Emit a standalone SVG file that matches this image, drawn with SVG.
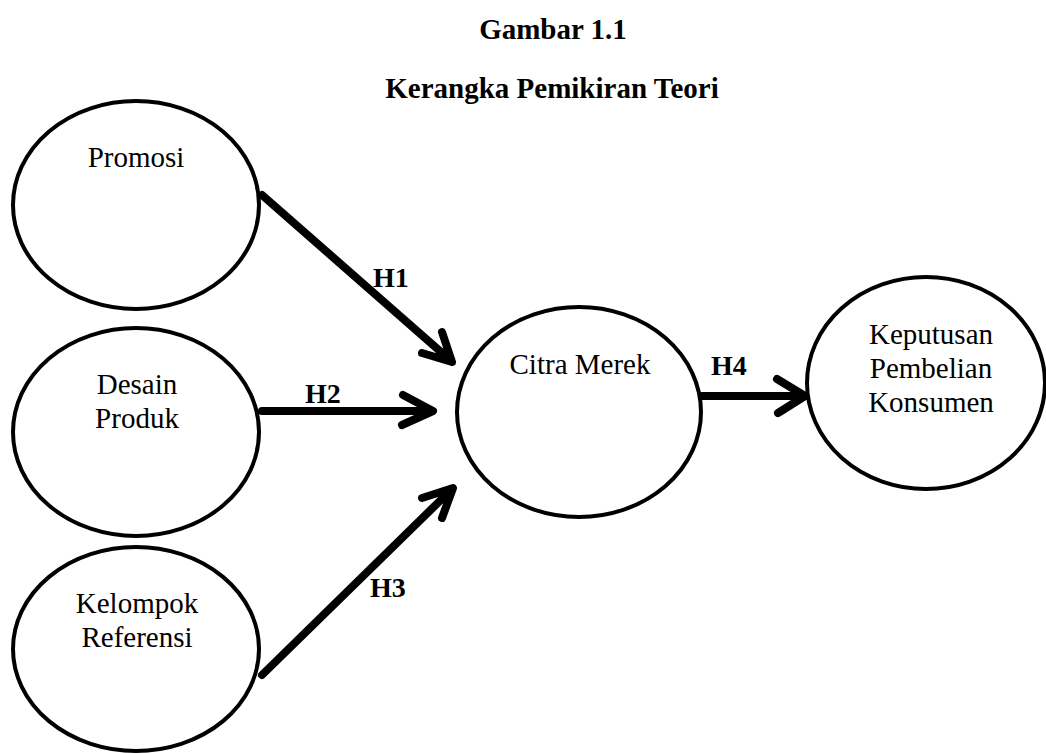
<svg xmlns="http://www.w3.org/2000/svg" width="1046" height="754" viewBox="0 0 1046 754">
<style>
.node{fill:#fff;stroke:#000;stroke-width:4}
.lbl{font-family:"Liberation Serif","Times New Roman",serif;font-size:29px;fill:#000;text-anchor:middle}
.title{font-family:"Liberation Serif","Times New Roman",serif;font-size:29px;font-weight:bold;fill:#000;text-anchor:middle}
.h{font-family:"Liberation Serif","Times New Roman",serif;font-size:28px;font-weight:bold;fill:#000}
.arr{fill:none;stroke:#000;stroke-width:8;stroke-linecap:round;stroke-linejoin:round}
</style>
<rect width="1046" height="754" fill="#fff"/>
<g id="title">
<text class="title" x="553" y="39">Gambar 1.1</text>
<text class="title" x="552" y="98">Kerangka Pemikiran Teori</text>
</g>
<g id="connectors">
<path class="arr" d="M262,195 L449,359 M442,332 L452,362 L422,353"/>
<path class="arr" d="M262,411 L430,411 M403,395 L433,411 L402,425"/>
<path class="arr" d="M262,675 L450,491 M422,498 L453,488 L442,518"/>
<path class="arr" d="M702,396 L802,396 M777,379 L805,396 L778,413"/>
<text class="h" x="373" y="287">H1</text>
<text class="h" x="305" y="403">H2</text>
<text class="h" x="370" y="597">H3</text>
<text class="h" x="711" y="375">H4</text>
</g>
<g id="promosi">
<ellipse class="node" cx="136" cy="205" rx="123" ry="104"/>
<text class="lbl" x="136" y="167">Promosi</text>
</g>
<g id="desain-produk">
<ellipse class="node" cx="136" cy="432" rx="123" ry="104"/>
<text class="lbl" x="137" y="394">Desain</text>
<text class="lbl" x="137" y="428">Produk</text>
</g>
<g id="kelompok-referensi">
<ellipse class="node" cx="136" cy="649" rx="123" ry="102"/>
<text class="lbl" x="137" y="613">Kelompok</text>
<text class="lbl" x="137" y="647">Referensi</text>
</g>
<g id="citra-merek">
<ellipse class="node" cx="579" cy="412" rx="122" ry="105"/>
<text class="lbl" x="580" y="374">Citra Merek</text>
</g>
<g id="keputusan">
<ellipse class="node" cx="926" cy="383" rx="119" ry="106"/>
<text class="lbl" x="931" y="344">Keputusan</text>
<text class="lbl" x="931" y="378">Pembelian</text>
<text class="lbl" x="931" y="412">Konsumen</text>
</g>
</svg>
